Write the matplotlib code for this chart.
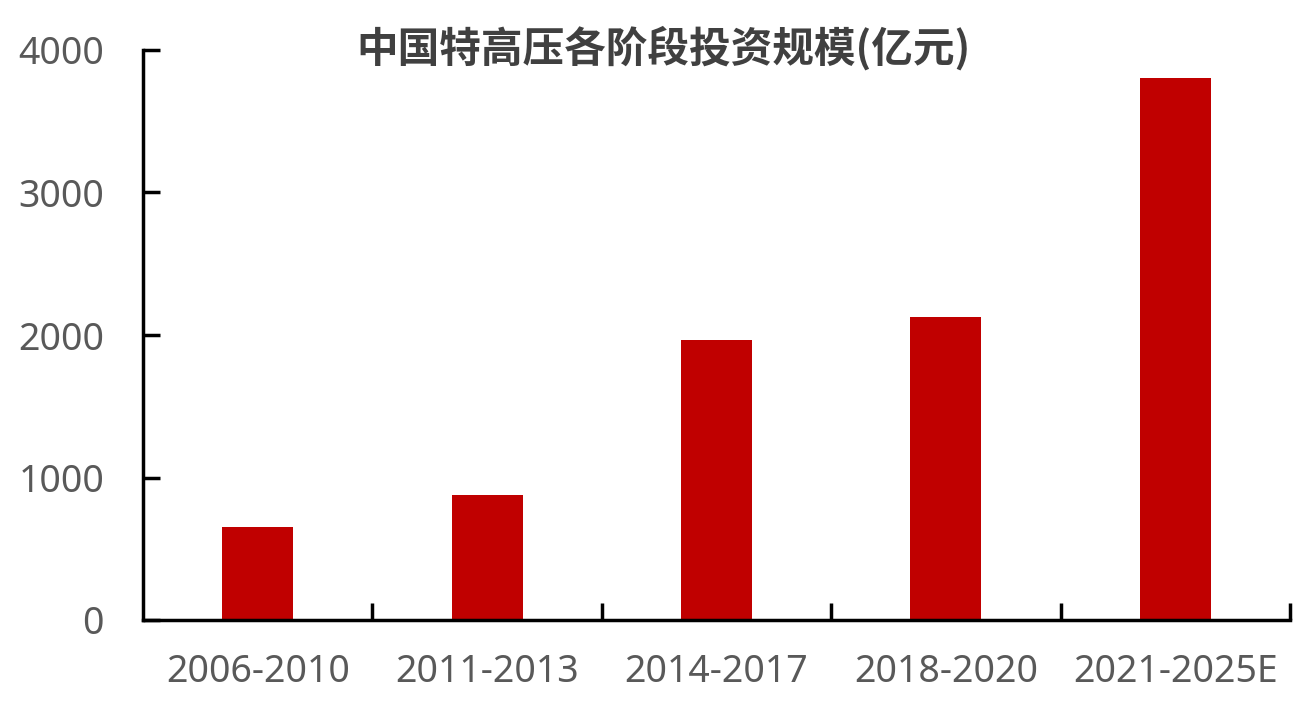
import matplotlib
matplotlib.use("Agg")
import matplotlib.pyplot as plt
import numpy as np

categories = ["2006-2010", "2011-2013", "2014-2017", "2018-2020", "2021-2025E"]
values = [653, 877, 1965, 2126, 3800]
yticks = [0, 1000, 2000, 3000, 4000]

plt.rcParams['font.family'] = ['Noto Sans CJK SC', 'DejaVu Sans']

fig = plt.figure(figsize=(12.99, 7.02), dpi=100)
ax = fig.add_axes([143/1299, 1-620/702, (1290-143)/1299, 570/702])

x = np.arange(len(categories))
ax.bar(x, values, width=0.31, color="#C00000", zorder=2)
ax.set_xlim(-0.5, len(categories)-0.5)
ax.set_ylim(0, 4000)
ax.set_yticks(yticks)
ax.set_yticklabels([str(v) for v in yticks])

ax.set_xticks(x)
ax.set_xticklabels(categories)
ax.set_xticks(np.arange(len(categories)) + 0.5, minor=True)
ax.tick_params(axis='x', which='major', length=0, pad=24, labelsize=27, labelcolor="#595959")
ax.tick_params(axis='x', which='minor', direction='in', length=12, width=2.5, color='black')
ax.tick_params(axis='y', direction='in', length=12, width=2.5, color='black', pad=28, labelsize=27, labelcolor="#595959")
for lab in ax.get_xticklabels() + ax.get_yticklabels():
    lab.set_fontfamily(['Noto Sans', 'DejaVu Sans'])

for s in ['top', 'right']:
    ax.spines[s].set_visible(False)
for s in ['left', 'bottom']:
    ax.spines[s].set_linewidth(2.5)
    ax.spines[s].set_color('black')

fig.text(664/1299, 1-48/702, "中国特高压各阶段投资规模(亿元)", ha='center', va='center',
         fontsize=30, fontweight='bold', color="#404040")

fig.savefig("out.png", dpi=100)
